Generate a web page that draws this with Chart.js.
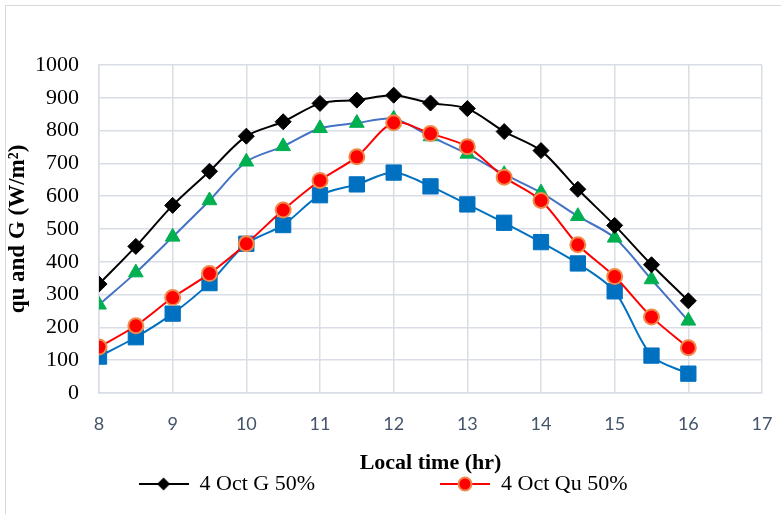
<!DOCTYPE html>
<html>
<head>
<meta charset="utf-8">
<script src="https://cdn.jsdelivr.net/npm/chart.js@4.4.1/dist/chart.umd.min.js"></script>
<style>
  html, body { margin: 0; padding: 0; background: #fff; overflow: hidden; }
  #wrap { position: relative; width: 781px; height: 514px; }
  #frame { position: absolute; left: 5px; top: 5px; width: 900px; height: 700px; border: 1.5px solid #d9d9d9; box-sizing: border-box; }
  canvas { position: absolute; left: 0; top: 0; }
</style>
</head>
<body>
<div id="wrap">
  <div id="frame"></div>
  <canvas id="chart" width="781" height="514"></canvas>
</div>
<script>
// local time (hr)
const hours = [8, 8.5, 9, 9.5, 10, 10.5, 11, 11.5, 12, 12.5, 13, 13.5, 14, 14.5, 15, 15.5, 16];

// W/m2
const gSeries = [332, 447, 572, 676, 783, 827, 883, 893, 908, 884, 867, 797, 739, 621, 511, 391, 281];
const quSeries = [140, 205, 291, 364, 455, 558, 648, 720, 824, 791, 751, 658, 587, 452, 355, 232, 138];
const gSeries2 = [269, 367, 476, 587, 705, 752, 807, 823, 836, 782, 729, 667, 611, 539, 473, 346, 220];
const quSeries2 = [111, 170, 242, 335, 455, 512, 603, 636, 672, 630, 575, 519, 460, 395, 310, 114, 59];

const legendNames = ["4 Oct G 50%", "4 Oct Qu 50%"];

const serif = "'Liberation Serif', 'Times New Roman', serif";

function toPoints(vals) {
  return hours.map((h, i) => ({ x: h, y: vals[i] }));
}

// little line + marker picture for the legend
function legendIcon(lineColor, drawMarker) {
  const c = document.createElement("canvas");
  c.width = 50;
  c.height = 18;
  const ctx = c.getContext("2d");
  ctx.strokeStyle = lineColor;
  ctx.lineWidth = 2;
  ctx.beginPath();
  ctx.moveTo(0, 9);
  ctx.lineTo(50, 9);
  ctx.stroke();
  drawMarker(ctx, 25, 9);
  return c;
}

const iconG = legendIcon("#000000", (ctx, x, y) => {
  ctx.fillStyle = "#000000";
  ctx.beginPath();
  ctx.moveTo(x, y - 6.5);
  ctx.lineTo(x + 6.5, y);
  ctx.lineTo(x, y + 6.5);
  ctx.lineTo(x - 6.5, y);
  ctx.closePath();
  ctx.fill();
});
const iconQu = legendIcon("#ff0000", (ctx, x, y) => {
  ctx.fillStyle = "#ff0000";
  ctx.strokeStyle = "#f08a4b";
  ctx.lineWidth = 2;
  ctx.beginPath();
  ctx.arc(x, y, 6.5, 0, Math.PI * 2);
  ctx.fill();
  ctx.stroke();
});

const ctx = document.getElementById("chart");
new Chart(ctx, {
  type: "line",
  data: {
    datasets: [
      {
        label: legendNames[0],
        data: toPoints(gSeries),
        borderColor: "#000000",
        borderWidth: 2,
        pointStyle: "rectRot",
        pointRadius: 8,
        pointBackgroundColor: "#000000",
        pointBorderColor: "#000000",
        pointBorderWidth: 1,
        tension: 0.3,
      },
      {
        label: legendNames[1],
        data: toPoints(quSeries),
        borderColor: "#ff0000",
        borderWidth: 2,
        pointStyle: "circle",
        pointRadius: 7.5,
        pointBackgroundColor: "#ff0000",
        pointBorderColor: "#f08a4b",
        pointBorderWidth: 2,
        tension: 0.3,
      },
      {
        label: "G2",
        data: toPoints(gSeries2),
        borderColor: "#4472c4",
        borderWidth: 2,
        pointStyle: "triangle",
        pointRadius: 8.5,
        pointBackgroundColor: "#00b050",
        pointBorderColor: "#00b050",
        pointBorderWidth: 1,
        tension: 0.3,
      },
      {
        label: "Qu2",
        data: toPoints(quSeries2),
        borderColor: "#0070c0",
        borderWidth: 2,
        pointStyle: "rect",
        pointRadius: 10.8,
        pointBackgroundColor: "#0070c0",
        pointBorderColor: "#0070c0",
        pointBorderWidth: 1,
        tension: 0.3,
      },
    ],
  },
  options: {
    responsive: false,
    animation: false,
    layout: { padding: { left: 4, right: 19, top: 65, bottom: 9 } },
    plugins: {
      tooltip: { enabled: false },
      legend: {
        position: "bottom",
        labels: {
          usePointStyle: true,
          pointStyleWidth: 50,
          padding: 4,
          color: "#000000",
          font: { family: serif, size: 22 },
          generateLabels: (chart) => {
            return legendNames.map((name, i) => ({
              // spaces keep the two entries apart like the original
              text: i == 0 ? name + "\u00a0".repeat(22) : name,
              datasetIndex: i,
              pointStyle: i == 0 ? iconG : iconQu,
              fontColor: "#000000",
              lineWidth: 0,
              hidden: false,
            }));
          },
        },
      },
    },
    scales: {
      x: {
        type: "linear",
        min: 8,
        max: 17,
        ticks: {
          stepSize: 1,
          color: "#44546a",
          padding: 20,
          font: { family: "Lato, 'Open Sans', sans-serif", size: 18 },
        },
        grid: { color: "#d9dde6", lineWidth: 1.5, drawTicks: false },
        border: { color: "#d9dde6", width: 1.5 },
        title: {
          display: true,
          text: "Local time (hr)",
          color: "#000000",
          padding: { top: 0, bottom: -8 },
          font: { family: serif, size: 22, weight: "bold" },
        },
        afterFit: (scale) => {
          scale.height = 76;
          scale.paddingRight = 0;
          scale.paddingLeft = 0;
        },
      },
      y: {
        min: 0,
        max: 1000,
        ticks: {
          stepSize: 100,
          autoSkip: false,
          color: "#000000",
          padding: 20,
          font: { family: serif, size: 22 },
          callback: (v) => v,
        },
        grid: { color: "#d9dde6", lineWidth: 1.5, drawTicks: false },
        border: { color: "#d9dde6", width: 1.5 },
        title: {
          display: true,
          text: "qu and G (W/m²)",
          color: "#000000",
          padding: { top: 0, bottom: 0 },
          font: { family: serif, size: 23, weight: "bold" },
        },
        afterFit: (scale) => {
          scale.width = 95;
        },
      },
    },
  },
});
</script>
</body>
</html>
